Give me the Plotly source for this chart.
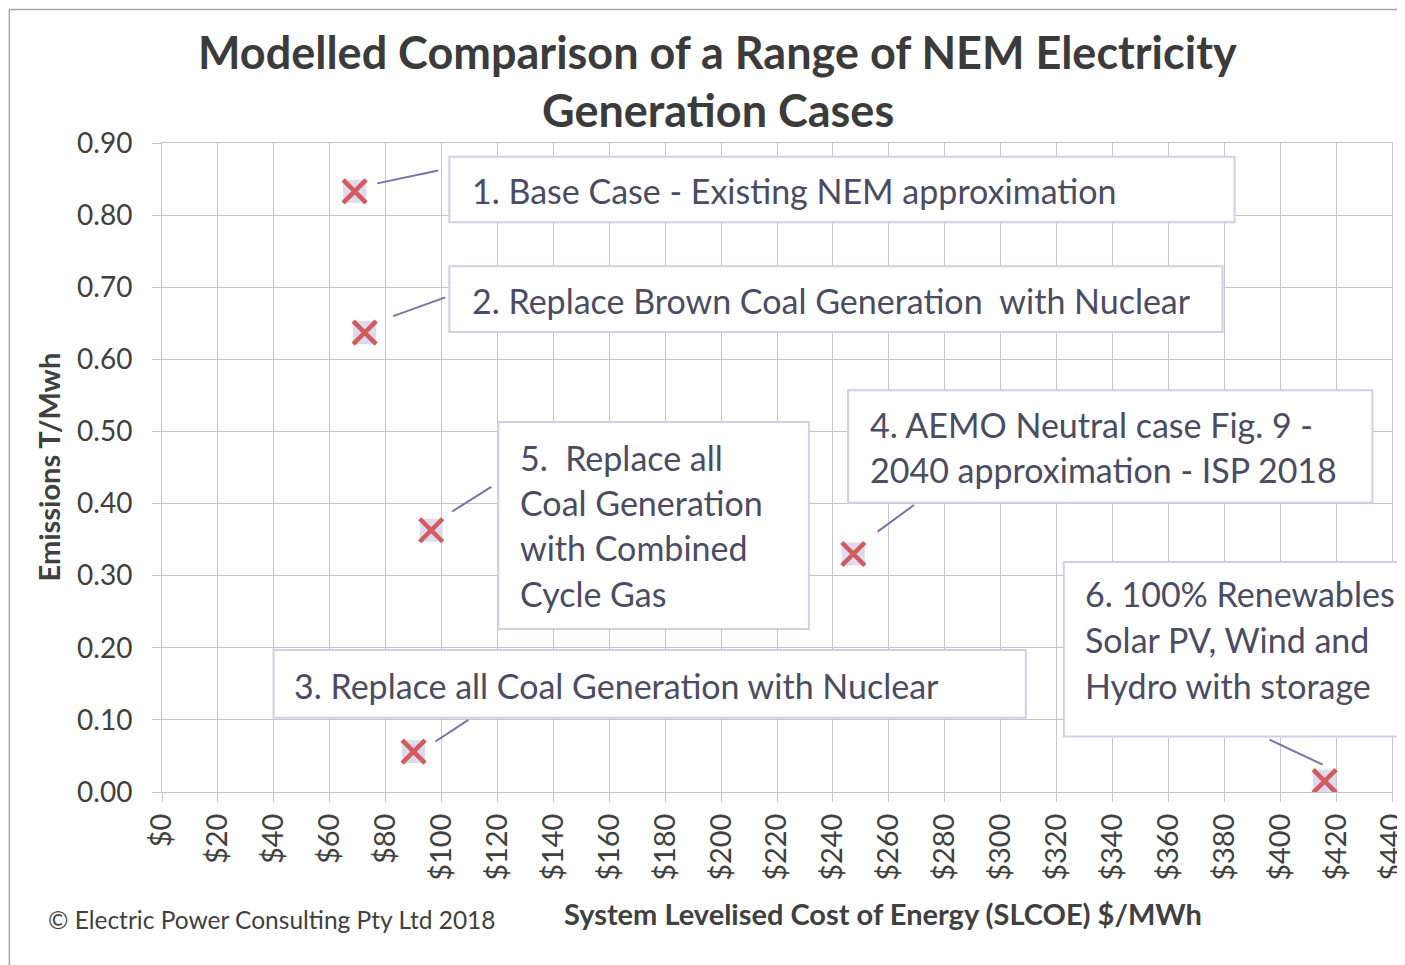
import plotly.graph_objects as go

# ---------------- data ----------------
cases = [
    "1. Base Case - Existing NEM approximation",
    "2. Replace Brown Coal Generation  with Nuclear",
    "3. Replace all Coal Generation with Nuclear",
    "4. AEMO Neutral case Fig. 9 - 2040 approximation - ISP 2018",
    "5. Replace all Coal Generation with Combined Cycle Gas",
    "6. 100% Renewables Solar PV, Wind and Hydro with storage",
]
slcoe = [68.9, 72.5, 90.0, 247.3, 96.3, 415.9]          # $/MWh
emissions = [0.833, 0.637, 0.056, 0.330, 0.363, 0.015]  # T/MWh

x_ticks = list(range(0, 441, 20))
x_tick_labels = ["$" + str(v) for v in x_ticks]
y_ticks = [i / 10 for i in range(0, 10)]
y_tick_labels = ["%.2f" % v for v in y_ticks]

# label boxes (data units): lines of text, box extents, text anchor, leader line
label_lines = [
    ["1. Base Case - Existing NEM approximation"],
    ["2. Replace Brown Coal Generation  with Nuclear"],
    ["3. Replace all Coal Generation with Nuclear"],
    ["4. AEMO Neutral case Fig. 9 -", "2040 approximation - ISP 2018"],
    ["5.  Replace all", "Coal Generation", "with Combined", "Cycle Gas"],
    ["6. 100% Renewables", "Solar PV, Wind and", "Hydro with storage"],
]
box_x = [(102.8, 383.7), (102.8, 379.4), (39.9, 309.0), (245.4, 433.0), (120.3, 231.4), (322.6, 447.0)]
box_y = [(0.790, 0.881), (0.638, 0.729), (0.103, 0.197), (0.401, 0.557), (0.226, 0.513), (0.077, 0.319)]
text_x = [110.3, 110.3, 46.6, 252.5, 127.4, 329.4]
text_y = [[0.834], [0.682], [0.148], [0.509, 0.4466], [0.4645, 0.402, 0.339, 0.275], [0.275, 0.211, 0.148]]
leaders = [
    ((77.0, 0.844), (98.8, 0.862)),
    ((82.7, 0.660), (101.3, 0.686)),
    ((97.8, 0.070), (109.6, 0.100)),
    ((256.0, 0.361), (269.0, 0.398)),
    ((103.8, 0.389), (117.8, 0.423)),
    ((396.2, 0.0727), (415.2, 0.038)),
]

X_RANGE = [0, 440]
Y_RANGE = [0, 0.9]

FONT = "Lato"
TXT = "#404040"
BOXTXT = "#4b4c63"
GRID = "#c6c6c6"


def px(x):
    return (x - X_RANGE[0]) / (X_RANGE[1] - X_RANGE[0])


def py(y):
    return (y - Y_RANGE[0]) / (Y_RANGE[1] - Y_RANGE[0])


fig = go.Figure()

# marker background squares
fig.add_trace(go.Scatter(
    x=slcoe, y=emissions, mode="markers", text=cases, hoverinfo="text",
    marker=dict(symbol="square", size=23, color="#dedaf0", line=dict(width=0)),
    showlegend=False,
))
# red crosses
fig.add_trace(go.Scatter(
    x=slcoe, y=emissions, mode="markers", text=cases, hoverinfo="text",
    marker=dict(symbol="x-thin", size=23, color="#d45b5b",
                line=dict(width=4.5, color="#d45b5b")),
    showlegend=False,
))

shapes = []
annotations = []

# outer chart frame (left and top edges)
shapes.append(dict(type="line", xref="paper", yref="paper",
                   x0=-0.1241, x1=-0.1241, y0=1.2058, y1=-0.27,
                   line=dict(color="#a6a6a6", width=1.5)))
shapes.append(dict(type="line", xref="paper", yref="paper",
                   x0=-0.1241, x1=1.02, y0=1.2058, y1=1.2058,
                   line=dict(color="#a6a6a6", width=1.5)))

for i in range(len(cases)):
    (x0, x1), (y0, y1) = box_x[i], box_y[i]
    shapes.append(dict(type="rect", xref="paper", yref="paper",
                       x0=px(x0), x1=px(x1), y0=py(y0), y1=py(y1),
                       fillcolor="white", line=dict(color="#cfcfe6", width=2),
                       layer="above"))
    (lx0, ly0), (lx1, ly1) = leaders[i]
    shapes.append(dict(type="line", xref="x", yref="y",
                       x0=lx0, y0=ly0, x1=lx1, y1=ly1,
                       line=dict(color="#7474ae", width=2), layer="above"))
    for line, ty in zip(label_lines[i], text_y[i]):
        annotations.append(dict(
            xref="paper", yref="paper", x=px(text_x[i]), y=py(ty),
            xanchor="left", yanchor="middle", showarrow=False,
            text=line, font=dict(family=FONT, size=34, color=BOXTXT)))

# titles
annotations += [
    dict(xref="paper", yref="paper", x=0.452, y=1.140, xanchor="center", yanchor="middle",
         showarrow=False, text="<b>Modelled Comparison of a Range of NEM Electricity</b>",
         font=dict(family=FONT, size=45, color="#3b3b3b")),
    dict(xref="paper", yref="paper", x=0.452, y=1.051, xanchor="center", yanchor="middle",
         showarrow=False, text="<b>Generation Cases</b>",
         font=dict(family=FONT, size=45, color="#3b3b3b")),
    dict(xref="paper", yref="paper", x=0.586, y=-0.187, xanchor="center", yanchor="middle",
         showarrow=False, text="<b>System Levelised Cost of Energy (SLCOE) $/MWh</b>",
         font=dict(family=FONT, size=29, color=TXT)),
    dict(xref="paper", yref="paper", x=-0.0946, y=-0.196, xanchor="left", yanchor="middle",
         showarrow=False, text="© Electric Power Consulting Pty Ltd 2018",
         font=dict(family=FONT, size=24.5, color=TXT)),
    dict(xref="paper", yref="paper", x=-0.0922, y=0.501, xanchor="center", yanchor="middle",
         showarrow=False, text="<b>Emissions T/Mwh</b>", textangle=-90,
         font=dict(family=FONT, size=29, color=TXT)),
]

# the page body adds an 8 px offset, so the figure is 8 px smaller and shifted
fig.update_layout(
    width=1397, height=957,
    margin=dict(l=153.5, r=12.5, t=134.5, b=172.5, autoexpand=False),
    paper_bgcolor="white", plot_bgcolor="white",
    shapes=shapes, annotations=annotations,
    font=dict(family=FONT, color=TXT),
)
fig.update_xaxes(
    range=X_RANGE, tickvals=x_ticks, ticktext=x_tick_labels, tickangle=-90,
    showgrid=True, gridcolor=GRID, gridwidth=1,
    showline=True, linecolor=GRID, linewidth=1, mirror=True,
    ticks="outside", ticklen=9, tickcolor=GRID,
    tickfont=dict(family=FONT, size=29, color=TXT), ticklabelstandoff=0,
    ticklabeloverflow="allow",
    zeroline=False, fixedrange=True,
)
fig.update_yaxes(
    range=Y_RANGE, tickvals=y_ticks, ticktext=y_tick_labels,
    showgrid=True, gridcolor=GRID, gridwidth=1,
    showline=True, linecolor=GRID, linewidth=1, mirror=True,
    ticks="outside", ticklen=9, tickcolor=GRID,
    tickfont=dict(family=FONT, size=28, color=TXT), ticklabelstandoff=14,
    ticklabeloverflow="allow",
    zeroline=False, fixedrange=True,
)

fig.write_html("out.html")
